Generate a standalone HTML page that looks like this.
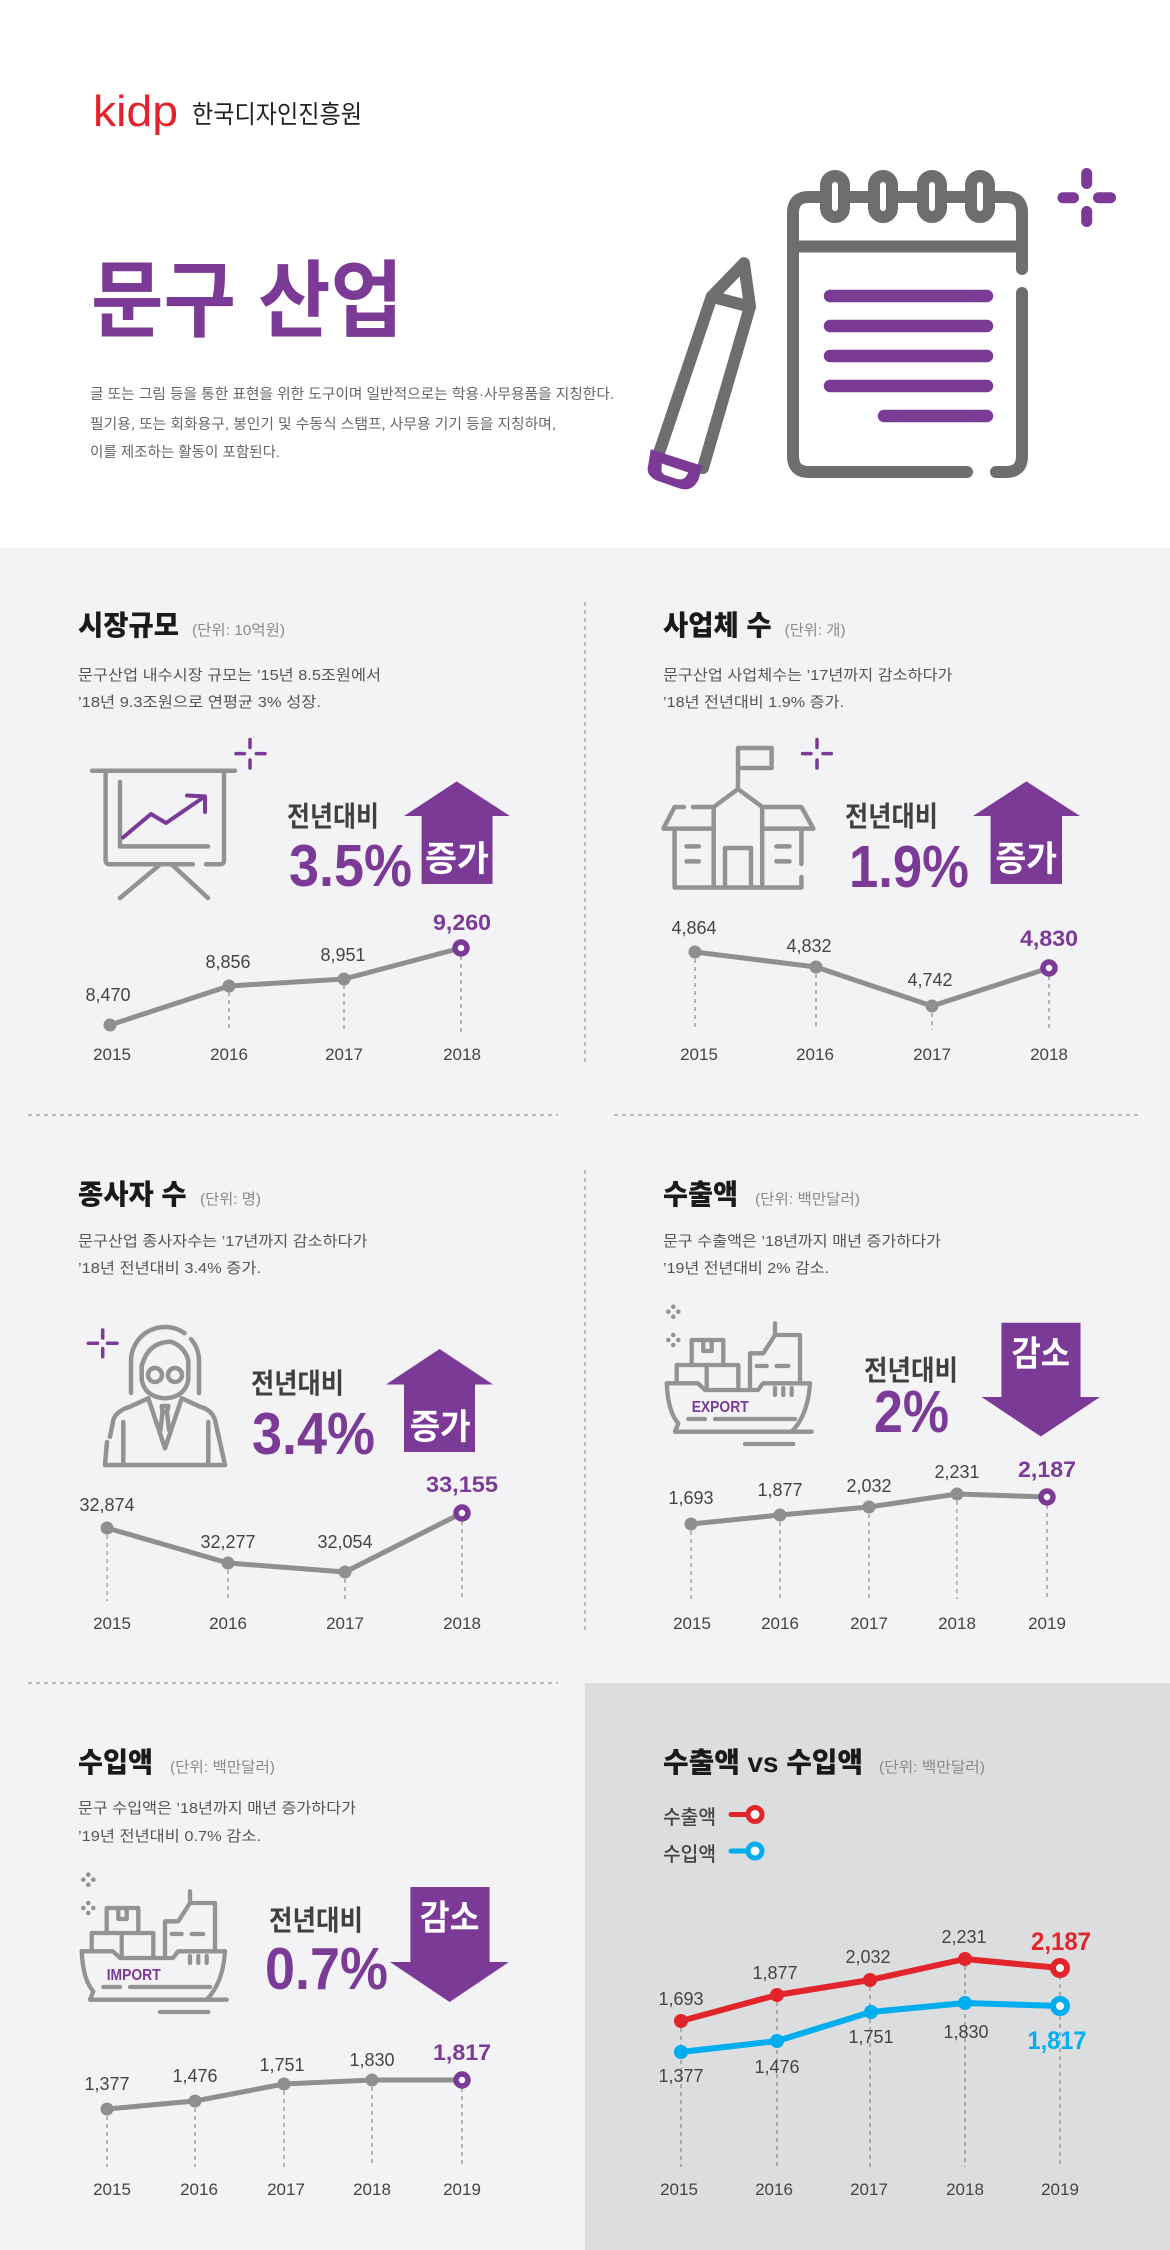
<!DOCTYPE html>
<html><head><meta charset="utf-8"><style>
html,body{margin:0;padding:0;background:#fff;}
body{width:1170px;height:2250px;overflow:hidden;}
svg{display:block;}
text{font-family:"Liberation Sans","Noto Sans CJK KR",sans-serif;}
.t{font-weight:900;fill:#1a1a1a;font-size:28px;}
.u{fill:#8a8a8a;font-size:15px;}
.d{fill:#555;font-size:15px;}
.jb{font-weight:700;fill:#404040;font-size:28px;}
.pc{font-weight:700;fill:#7B3A96;font-size:59px;}
.bx{font-weight:700;fill:#fff;font-size:35px;}
.v{fill:#444;font-size:18px;text-anchor:middle;}
.y{fill:#444;font-size:17px;text-anchor:middle;}
.vb{font-weight:700;fill:#7B3A96;font-size:22px;text-anchor:middle;}
</style></head><body>
<svg width="1170" height="2250" viewBox="0 0 1170 2250" xmlns="http://www.w3.org/2000/svg">
<rect width="1170" height="2250" fill="#F3F3F5"/>
<rect width="1170" height="548" fill="#ffffff"/>
<rect x="585" y="1683" width="585" height="567" fill="#DCDDDF"/>

<!-- dividers -->
<g stroke="#A8A8A8" stroke-width="1.5" stroke-dasharray="4 4" fill="none">
<line x1="585" y1="602" x2="585" y2="1062"/>
<line x1="585" y1="1170" x2="585" y2="1630"/>
<line x1="28" y1="1115" x2="558" y2="1115"/>
<line x1="614" y1="1115" x2="1142" y2="1115"/>
<line x1="28" y1="1683" x2="558" y2="1683"/>
</g>

<!-- header -->
<text x="93" y="126" font-size="44" fill="#E4222A" textLength="85" lengthAdjust="spacingAndGlyphs">kidp</text>
<text x="192" y="123" font-size="25" fill="#231F20" textLength="170" lengthAdjust="spacingAndGlyphs">한국디자인진흥원</text>
<text x="91" y="330" font-size="84" font-weight="700" fill="#7B3A96" textLength="312" lengthAdjust="spacingAndGlyphs">문구 산업</text>
<text x="90" y="399" font-size="14.5" fill="#666" textLength="524" lengthAdjust="spacingAndGlyphs">글 또는 그림 등을 통한 표현을 위한 도구이며 일반적으로는 학용·사무용품을 지칭한다.</text>
<text x="90" y="429" font-size="14.5" fill="#666" textLength="466" lengthAdjust="spacingAndGlyphs">필기용, 또는 회화용구, 봉인기 및 수동식 스탬프, 사무용 기기 등을 지칭하며,</text>
<text x="90" y="457" font-size="14.5" fill="#666" textLength="190" lengthAdjust="spacingAndGlyphs">이를 제조하는 활동이 포함된다.</text>

<!-- notebook -->
<g fill="none" stroke="#6D6E70" stroke-width="12" stroke-linecap="round" stroke-linejoin="round">
<path d="M1022 269 L1022 213 Q1022 197 1006 197 L809 197 Q793 197 793 213 L793 456 Q793 472 809 472 L967 472"/>
<path d="M996 472 L1006 472 Q1022 472 1022 456 L1022 293"/>
<path d="M793 246.5 L1022 246.5"/>
</g>
<g fill="#fff" stroke="#6D6E70" stroke-width="12">
<rect x="826" y="176" width="18" height="41" rx="9"/>
<rect x="874" y="176" width="18" height="41" rx="9"/>
<rect x="923" y="176" width="18" height="41" rx="9"/>
<rect x="971" y="176" width="18" height="41" rx="9"/>
</g>
<g stroke="#7B3A96" stroke-width="12.5" stroke-linecap="round">
<path d="M830 296 L987 296 M830 326 L987 326 M830 356 L987 356 M830 386 L987 386 M884 416 L987 416"/>
</g>
<g stroke="#7B3A96" stroke-width="11" stroke-linecap="round">
<path d="M1086.7 173.5 L1086.7 183.5 M1086.7 211.5 L1086.7 221.5 M1063 197.7 L1073.5 197.7 M1098.5 197.7 L1110.5 197.7"/>
</g>
<!-- pencil -->
<g fill="none" stroke="#6D6E70" stroke-width="12" stroke-linecap="round" stroke-linejoin="round">
<path d="M711.7 296.7 L744 263.3 L750 306.7 Z"/>
<path d="M711.7 296.7 L658 456 M750 306.7 L703 468"/>
</g>
<path d="M650.7 449.3 L702.7 466 L698.3 480 Q691.7 493 678.3 488 L656.7 480.5 Q645 475 648.3 465 Z" fill="#7B3A96"/>
<path d="M661.7 463.5 L688.3 472.5 L686 476.5 Q683 480.5 677 479 L665 475 Q660 472.5 661.7 468 Z" fill="#fff"/>

<!-- ===== Panel A ===== -->
<text class="t" x="78" y="635" textLength="101" lengthAdjust="spacingAndGlyphs">시장규모</text>
<text class="u" x="192" y="635" textLength="93" lengthAdjust="spacingAndGlyphs">(단위: 10억원)</text>
<text class="d" x="78" y="680" textLength="303" lengthAdjust="spacingAndGlyphs">문구산업 내수시장 규모는 ’15년 8.5조원에서</text>
<text class="d" x="78" y="707" textLength="243" lengthAdjust="spacingAndGlyphs">’18년 9.3조원으로 연평균 3% 성장.</text>
<!-- easel -->
<g fill="none" stroke="#939393" stroke-width="4.5" stroke-linecap="round" stroke-linejoin="round">
<path d="M92 770.7 L235 770.7"/>
<path d="M105.6 770.7 L105.6 860 Q105.6 864.3 110 864.3 L193 864.3 M206 864.3 L220 864.3 Q224 864.3 224 860 L224 770.7"/>
<path d="M120 782 L120 846.4 L208 846.4"/>
<path d="M160.4 864.3 L120 898 M171.6 864.3 L208 898"/>
</g>
<g fill="none" stroke="#7B3A96" stroke-width="4" stroke-linecap="round" stroke-linejoin="round">
<path d="M123 837.5 L151 814 L166 823 L204 797"/>
<path d="M187 795.5 L205 796.4 L205 812"/>
<path d="M250 739.5 L250 747.5 M250 760 L250 768 M236 753.6 L244.4 753.6 M256.3 753.6 L265 753.6" stroke-width="3.5"/>
</g>
<text class="jb" x="287" y="826" textLength="92" lengthAdjust="spacingAndGlyphs">전년대비</text>
<text class="pc" x="289" y="886" textLength="123" lengthAdjust="spacingAndGlyphs">3.5%</text>
<polygon points="456.7,781.4 510,816 492.5,816 492.5,884 421.6,884 421.6,816 404,816" fill="#7B3A96"/>
<text class="bx" x="425" y="871" textLength="64" lengthAdjust="spacingAndGlyphs">증가</text>
<!-- chart A -->
<g stroke="#A0A0A0" stroke-width="1.5" stroke-dasharray="4 4">
<line x1="229" y1="992" x2="229" y2="1032"/><line x1="344" y1="985" x2="344" y2="1032"/><line x1="461" y1="956" x2="461" y2="1032"/>
</g>
<polyline points="110,1025 229,986 344,979 461,948" fill="none" stroke="#8F8F8F" stroke-width="5" stroke-linejoin="round"/>
<g fill="#8F8F8F"><circle cx="110" cy="1025" r="6.5"/><circle cx="229" cy="986" r="6.5"/><circle cx="344" cy="979" r="6.5"/></g>
<circle cx="461" cy="948" r="6" fill="#fff" stroke="#7B3A96" stroke-width="5.5"/>
<text class="v" x="108" y="1001">8,470</text>
<text class="v" x="228" y="968">8,856</text>
<text class="v" x="343" y="961">8,951</text>
<text class="vb" x="462" y="930" textLength="58" lengthAdjust="spacingAndGlyphs">9,260</text>
<text class="y" x="112" y="1060">2015</text><text class="y" x="229" y="1060">2016</text><text class="y" x="344" y="1060">2017</text><text class="y" x="462" y="1060">2018</text>

<!-- ===== Panel B ===== -->
<text class="t" x="663" y="635" textLength="108.6" lengthAdjust="spacingAndGlyphs">사업체 수</text>
<text class="u" x="784.6" y="635" textLength="61" lengthAdjust="spacingAndGlyphs">(단위: 개)</text>
<text class="d" x="663" y="680" textLength="289.5" lengthAdjust="spacingAndGlyphs">문구산업 사업체수는 ’17년까지 감소하다가</text>
<text class="d" x="663" y="707" textLength="181" lengthAdjust="spacingAndGlyphs">’18년 전년대비 1.9% 증가.</text>
<!-- building -->
<g fill="none" stroke="#939393" stroke-width="4.5" stroke-linecap="round" stroke-linejoin="round">
<path d="M738 789 L738 748 L771.6 748 L771.6 768 L738 768"/>
<path d="M713.7 807 L738 789 L762.2 807"/>
<path d="M713.7 807 L713.7 887.5 M762.2 807 L762.2 887.5"/>
<path d="M684 807 L674.6 807 L663.4 828.6 L713.7 828.6 M693 807 L713.7 807"/>
<path d="M674.6 828.6 L674.6 887.5 L801.4 887.5 L801.4 877"/>
<path d="M762.2 807 L801.4 807 L813.4 828.6 L762.2 828.6 M801.4 828.6 L801.4 864"/>
<path d="M725 887.5 L725 848 L751 848 L751 887.5"/>
<path d="M686.5 846.4 L698.8 846.4 M686.5 861.4 L698.8 861.4 M776.4 846.4 L789.5 846.4 M776.4 861.4 L789.5 861.4"/>
</g>
<path d="M817 739.5 L817 747.5 M817 760 L817 768 M802.5 753.6 L811 753.6 M823 753.6 L831.3 753.6" stroke="#7B3A96" stroke-width="3.5" stroke-linecap="round"/>
<text class="jb" x="845" y="826" textLength="93" lengthAdjust="spacingAndGlyphs">전년대비</text>
<text class="pc" x="849" y="887" textLength="120" lengthAdjust="spacingAndGlyphs">1.9%</text>
<polygon points="1026.4,781.4 1080,816 1062,816 1062,884 990.6,884 990.6,816 973,816" fill="#7B3A96"/>
<text class="bx" x="995.5" y="871" textLength="61.5" lengthAdjust="spacingAndGlyphs">증가</text>
<g stroke="#A0A0A0" stroke-width="1.5" stroke-dasharray="4 4">
<line x1="695" y1="959" x2="695" y2="1030"/><line x1="816" y1="974" x2="816" y2="1030"/><line x1="932" y1="1013" x2="932" y2="1030"/><line x1="1049" y1="976" x2="1049" y2="1030"/>
</g>
<polyline points="695,952 816,967 932,1006 1049,968" fill="none" stroke="#8F8F8F" stroke-width="5" stroke-linejoin="round"/>
<g fill="#8F8F8F"><circle cx="695" cy="952" r="6.5"/><circle cx="816" cy="967" r="6.5"/><circle cx="932" cy="1006" r="6.5"/></g>
<circle cx="1049" cy="968" r="6" fill="#fff" stroke="#7B3A96" stroke-width="5.5"/>
<text class="v" x="694" y="934">4,864</text>
<text class="v" x="809" y="952">4,832</text>
<text class="v" x="930" y="986">4,742</text>
<text class="vb" x="1049" y="946" textLength="58" lengthAdjust="spacingAndGlyphs">4,830</text>
<text class="y" x="699" y="1060">2015</text><text class="y" x="815" y="1060">2016</text><text class="y" x="932" y="1060">2017</text><text class="y" x="1049" y="1060">2018</text>

<!-- ===== Panel C ===== -->
<text class="t" x="78" y="1204" textLength="108.6" lengthAdjust="spacingAndGlyphs">종사자 수</text>
<text class="u" x="200" y="1204" textLength="61" lengthAdjust="spacingAndGlyphs">(단위: 명)</text>
<text class="d" x="78" y="1246" textLength="289.5" lengthAdjust="spacingAndGlyphs">문구산업 종사자수는 ’17년까지 감소하다가</text>
<text class="d" x="78" y="1273" textLength="183" lengthAdjust="spacingAndGlyphs">’18년 전년대비 3.4% 증가.</text>
<!-- person -->
<g fill="none" stroke="#939393" stroke-width="4.5" stroke-linecap="round" stroke-linejoin="round">
<path d="M131 1393 L131 1361 A34 34 0 0 1 184.5 1333.1 M191 1339.1 A34 34 0 0 1 199 1361 L199 1393"/>
<path d="M141.7 1366 Q148 1342 170.7 1341.7 Q184 1346 188.3 1360 L188.3 1380 Q185 1397 165 1398.3 Q145 1397 141.7 1380 Z"/>
<circle cx="155" cy="1375" r="7"/><circle cx="175" cy="1375" r="7"/>
<path d="M148.3 1398.3 L165 1448.3 L181.7 1398.3"/>
<path d="M161.7 1406 L168.3 1406 L167 1412 L162.5 1412 Z M162.5 1412 L160.5 1430 M167 1412 L169 1430"/>
<path d="M148.3 1398.3 L130 1406.7 Q116 1411 113.3 1420 L110 1436.7 M107 1442 L105 1465 L225 1465 L215 1420 Q212 1410 200 1406.7 L181.7 1398.3"/>
<path d="M123.3 1422 L123.3 1463 M208.3 1422 L208.3 1463"/>
</g>
<path d="M102.7 1330 L102.7 1338 M102.7 1348.5 L102.7 1356.7 M88.3 1343.3 L97.5 1343.3 M107.5 1343.3 L117 1343.3" stroke="#7B3A96" stroke-width="3.5" stroke-linecap="round"/>
<text class="jb" x="251" y="1393" textLength="93" lengthAdjust="spacingAndGlyphs">전년대비</text>
<text class="pc" x="252" y="1454" textLength="123" lengthAdjust="spacingAndGlyphs">3.4%</text>
<polygon points="439.6,1349 493,1384.5 475,1384.5 475,1452 404,1452 404,1384.5 386,1384.5" fill="#7B3A96"/>
<text class="bx" x="409.7" y="1439" textLength="61" lengthAdjust="spacingAndGlyphs">증가</text>
<g stroke="#A0A0A0" stroke-width="1.5" stroke-dasharray="4 4">
<line x1="107" y1="1535" x2="107" y2="1601"/><line x1="228" y1="1570" x2="228" y2="1601"/><line x1="345" y1="1579" x2="345" y2="1601"/><line x1="462" y1="1521" x2="462" y2="1601"/>
</g>
<polyline points="107,1528 228,1563 345,1572 462,1513" fill="none" stroke="#8F8F8F" stroke-width="5" stroke-linejoin="round"/>
<g fill="#8F8F8F"><circle cx="107" cy="1528" r="6.5"/><circle cx="228" cy="1563" r="6.5"/><circle cx="345" cy="1572" r="6.5"/></g>
<circle cx="462" cy="1513" r="6" fill="#fff" stroke="#7B3A96" stroke-width="5.5"/>
<text class="v" x="107" y="1511">32,874</text>
<text class="v" x="228" y="1548">32,277</text>
<text class="v" x="345" y="1548">32,054</text>
<text class="vb" x="462" y="1492" textLength="72" lengthAdjust="spacingAndGlyphs">33,155</text>
<text class="y" x="112" y="1629">2015</text><text class="y" x="228" y="1629">2016</text><text class="y" x="345" y="1629">2017</text><text class="y" x="462" y="1629">2018</text>

<!-- ===== Panel D ===== -->
<text class="t" x="663" y="1204" textLength="75" lengthAdjust="spacingAndGlyphs">수출액</text>
<text class="u" x="755" y="1204" textLength="105" lengthAdjust="spacingAndGlyphs">(단위: 백만달러)</text>
<text class="d" x="663" y="1246" textLength="278" lengthAdjust="spacingAndGlyphs">문구 수출액은 ’18년까지 매년 증가하다가</text>
<text class="d" x="663" y="1273" textLength="166" lengthAdjust="spacingAndGlyphs">’19년 전년대비 2% 감소.</text>
<g id="ship">
<g fill="#939393">
<circle cx="668.3" cy="1311.7" r="2.3"/><circle cx="678.3" cy="1311.7" r="2.3"/><circle cx="673.3" cy="1306.7" r="2.3"/><circle cx="673.3" cy="1316.7" r="2.3"/>
<circle cx="668.3" cy="1340" r="2.3"/><circle cx="678.3" cy="1340" r="2.3"/><circle cx="673.3" cy="1335" r="2.3"/><circle cx="673.3" cy="1345" r="2.3"/>
</g>
<g fill="none" stroke="#939393" stroke-width="4.3" stroke-linecap="round" stroke-linejoin="round">
<path d="M666.7 1383.3 L698 1383.3 L705 1390 L758 1390 L763 1383.3 L810 1383.3"/>
<path d="M666.7 1383.3 Q668 1412 678.3 1423.3 L675 1431.7 L811.7 1431.7"/>
<path d="M810 1383.3 Q808 1415 791.7 1431.7"/>
<path d="M745 1444 L793.3 1444"/>
<path d="M688.3 1419 L705 1419 M715 1419 L795 1419"/>
<path d="M676.7 1383.3 L676.7 1365 L738.3 1365 L738.3 1390 M706.7 1365 L706.7 1390"/>
<path d="M691.7 1365 L691.7 1340 L723.3 1340 L723.3 1365 M703.3 1340 L703.3 1351 L711.7 1351 L711.7 1340"/>
<path d="M750 1390 L750 1353.3 L763.3 1353.3 L775 1335 L800 1335 L800 1383.3 M775 1335 L775 1323.3"/>
<path d="M756.7 1366 L766.7 1366 M776.7 1366 L788.3 1366"/>
<path d="M775 1388 L775 1395 M783.3 1388 L783.3 1395 M791.7 1388 L791.7 1395"/>
</g>
</g>
<text x="691.7" y="1412" font-size="16" font-weight="700" fill="#7B3A96" textLength="57" lengthAdjust="spacingAndGlyphs">EXPORT</text>
<text class="jb" x="864" y="1380" textLength="94" lengthAdjust="spacingAndGlyphs">전년대비</text>
<text class="pc" x="874" y="1432" font-size="56" textLength="75" lengthAdjust="spacingAndGlyphs">2%</text>
<polygon points="1001.4,1322.7 1080.5,1322.7 1080.5,1397 1100,1397 1040.8,1436.5 981.6,1397 1001.4,1397" fill="#7B3A96"/>
<text class="bx" x="1011.5" y="1366" font-size="34" textLength="58.5" lengthAdjust="spacingAndGlyphs">감소</text>
<g stroke="#A0A0A0" stroke-width="1.5" stroke-dasharray="4 4">
<line x1="691" y1="1531" x2="691" y2="1599"/><line x1="780" y1="1522" x2="780" y2="1599"/><line x1="869" y1="1514" x2="869" y2="1599"/><line x1="957" y1="1501" x2="957" y2="1599"/><line x1="1047" y1="1505" x2="1047" y2="1599"/>
</g>
<polyline points="691,1524 780,1515 869,1507 957,1494 1047,1497" fill="none" stroke="#8F8F8F" stroke-width="5" stroke-linejoin="round"/>
<g fill="#8F8F8F"><circle cx="691" cy="1524" r="6.5"/><circle cx="780" cy="1515" r="6.5"/><circle cx="869" cy="1507" r="6.5"/><circle cx="957" cy="1494" r="6.5"/></g>
<circle cx="1047" cy="1497" r="6" fill="#fff" stroke="#7B3A96" stroke-width="5.5"/>
<text class="v" x="691" y="1504">1,693</text>
<text class="v" x="780" y="1496">1,877</text>
<text class="v" x="869" y="1492">2,032</text>
<text class="v" x="957" y="1478">2,231</text>
<text class="vb" x="1047" y="1477" textLength="58" lengthAdjust="spacingAndGlyphs">2,187</text>
<text class="y" x="692" y="1629">2015</text><text class="y" x="780" y="1629">2016</text><text class="y" x="869" y="1629">2017</text><text class="y" x="957" y="1629">2018</text><text class="y" x="1047" y="1629">2019</text>

<!-- ===== Panel E ===== -->
<text class="t" x="78" y="1772" textLength="75" lengthAdjust="spacingAndGlyphs">수입액</text>
<text class="u" x="170" y="1772" textLength="105" lengthAdjust="spacingAndGlyphs">(단위: 백만달러)</text>
<text class="d" x="78" y="1813" textLength="278" lengthAdjust="spacingAndGlyphs">문구 수입액은 ’18년까지 매년 증가하다가</text>
<text class="d" x="78" y="1841" textLength="183" lengthAdjust="spacingAndGlyphs">’19년 전년대비 0.7% 감소.</text>
<use href="#ship" transform="translate(-585 568)"/>
<text x="106.7" y="1980" font-size="16" font-weight="700" fill="#7B3A96" textLength="54" lengthAdjust="spacingAndGlyphs">IMPORT</text>
<text class="jb" x="269" y="1930" textLength="94" lengthAdjust="spacingAndGlyphs">전년대비</text>
<text class="pc" x="265" y="1989" textLength="123" lengthAdjust="spacingAndGlyphs">0.7%</text>
<polygon points="410.4,1887 489.6,1887 489.6,1962 509,1962 449.6,2002 390,1962 410.4,1962" fill="#7B3A96"/>
<text class="bx" x="419.8" y="1930" font-size="34" textLength="59.7" lengthAdjust="spacingAndGlyphs">감소</text>
<g stroke="#A0A0A0" stroke-width="1.5" stroke-dasharray="4 4">
<line x1="107" y1="2116" x2="107" y2="2167"/><line x1="195" y1="2108" x2="195" y2="2167"/><line x1="284" y1="2091" x2="284" y2="2167"/><line x1="372" y1="2087" x2="372" y2="2167"/><line x1="462" y1="2088" x2="462" y2="2167"/>
</g>
<polyline points="107,2109 195,2101 284,2084 372,2080 462,2080" fill="none" stroke="#8F8F8F" stroke-width="5" stroke-linejoin="round"/>
<g fill="#8F8F8F"><circle cx="107" cy="2109" r="6.5"/><circle cx="195" cy="2101" r="6.5"/><circle cx="284" cy="2084" r="6.5"/><circle cx="372" cy="2080" r="6.5"/></g>
<circle cx="462" cy="2080" r="6" fill="#fff" stroke="#7B3A96" stroke-width="5.5"/>
<text class="v" x="107" y="2090">1,377</text>
<text class="v" x="195" y="2082">1,476</text>
<text class="v" x="282" y="2071">1,751</text>
<text class="v" x="372" y="2066">1,830</text>
<text class="vb" x="462" y="2060" textLength="58" lengthAdjust="spacingAndGlyphs">1,817</text>
<text class="y" x="112" y="2195">2015</text><text class="y" x="199" y="2195">2016</text><text class="y" x="286" y="2195">2017</text><text class="y" x="372" y="2195">2018</text><text class="y" x="462" y="2195">2019</text>

<!-- ===== Panel F ===== -->
<text class="t" x="663" y="1772" textLength="200" lengthAdjust="spacingAndGlyphs">수출액 vs 수입액</text>
<text class="u" x="879" y="1772" textLength="106" lengthAdjust="spacingAndGlyphs">(단위: 백만달러)</text>
<text x="663" y="1824" font-size="20" fill="#444" font-weight="500" textLength="53" lengthAdjust="spacingAndGlyphs">수출액</text>
<text x="663" y="1861" font-size="20" fill="#444" font-weight="500" textLength="53" lengthAdjust="spacingAndGlyphs">수입액</text>
<path d="M731 1814.5 L750 1814.5" stroke="#E2252B" stroke-width="5" stroke-linecap="round"/>
<circle cx="755" cy="1814.5" r="7" fill="#fff" stroke="#E2252B" stroke-width="5"/>
<path d="M731 1851 L750 1851" stroke="#00ADEE" stroke-width="5" stroke-linecap="round"/>
<circle cx="755" cy="1851" r="7" fill="#fff" stroke="#00ADEE" stroke-width="5"/>
<g stroke="#9A9A9A" stroke-width="1.5" stroke-dasharray="4 4">
<line x1="681" y1="2028" x2="681" y2="2167"/><line x1="777" y1="2002" x2="777" y2="2167"/><line x1="870" y1="1987" x2="870" y2="2167"/><line x1="965" y1="1966" x2="965" y2="2167"/><line x1="1060" y1="1976" x2="1060" y2="2167"/>
</g>
<polyline points="681,2021 777,1995 870,1980 965,1959 1060,1968" fill="none" stroke="#E2252B" stroke-width="6" stroke-linejoin="round"/>
<g fill="#E2252B"><circle cx="681" cy="2021" r="7"/><circle cx="777" cy="1995" r="7"/><circle cx="870" cy="1980" r="7"/><circle cx="965" cy="1959" r="7"/></g>
<circle cx="1060" cy="1968" r="7" fill="#fff" stroke="#E2252B" stroke-width="6"/>
<polyline points="681,2052 777,2041 871,2012 965,2003 1060,2006" fill="none" stroke="#00ADEE" stroke-width="6" stroke-linejoin="round"/>
<g fill="#00ADEE"><circle cx="681" cy="2052" r="7"/><circle cx="777" cy="2041" r="7"/><circle cx="871" cy="2012" r="7"/><circle cx="965" cy="2003" r="7"/></g>
<circle cx="1060" cy="2006" r="7" fill="#fff" stroke="#00ADEE" stroke-width="6"/>
<text class="v" x="681" y="2005">1,693</text>
<text class="v" x="775" y="1979">1,877</text>
<text class="v" x="868" y="1963">2,032</text>
<text class="v" x="964" y="1943">2,231</text>
<text x="1061" y="1950" font-size="25" font-weight="700" fill="#E2252B" text-anchor="middle" textLength="60" lengthAdjust="spacingAndGlyphs">2,187</text>
<text class="v" x="681" y="2082">1,377</text>
<text class="v" x="777" y="2073">1,476</text>
<text class="v" x="871" y="2043">1,751</text>
<text class="v" x="966" y="2038">1,830</text>
<text x="1057" y="2049" font-size="25" font-weight="700" fill="#00ADEE" text-anchor="middle" textLength="59" lengthAdjust="spacingAndGlyphs">1,817</text>
<text class="y" x="679" y="2195">2015</text><text class="y" x="774" y="2195">2016</text><text class="y" x="869" y="2195">2017</text><text class="y" x="965" y="2195">2018</text><text class="y" x="1060" y="2195">2019</text>
</svg>
</body></html>
